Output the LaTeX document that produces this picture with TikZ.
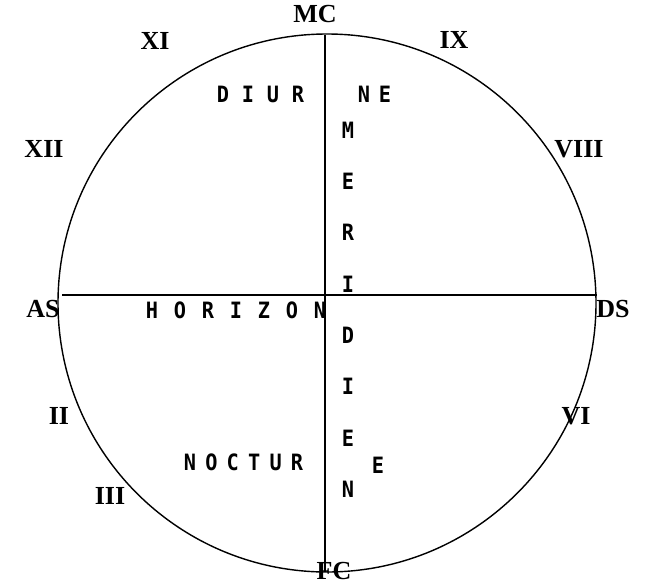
\documentclass[tikz,border=0pt]{standalone}
\usepackage{fontspec}
\setmainfont{Liberation Serif}
\newfontfamily\monofont{DejaVu Sans Mono}

\tikzset{
    house/.style={font=\fontsize{18.5}{21}\selectfont\bfseries, inner sep=0pt},
    word/.style={font=\monofont\bfseries\fontsize{16}{19}\selectfont, inner sep=0pt, xscale=0.9},
    axis/.style={draw, line width=1pt}
}

\begin{document}
\begin{tikzpicture}[x=0.025cm, y=-0.025cm]
    \useasboundingbox (0,0) rectangle (655,585);

    % the circle
    \coordinate (c) at (327,303);
    \draw[line width=1pt] (c) circle [radius=269];

    % meridian and horizon
    \coordinate (mc) at (325,35);
    \coordinate (fc) at (325,572);
    \coordinate (as) at (62,295);
    \coordinate (ds) at (597,295);
    \path[axis] (mc) -- (fc);
    \path[axis] (as) -- (ds);

    % houses
    \begin{scope}[every node/.style={house}]
        \node (MC) at (315,14) {MC};
        \node[anchor=base] (FC) at (334,579) {FC};
        \node (AS) at (43,309) {AS};
        \node (DS) at (613,309) {DS};
        \node (XI) at (155,41) {XI};
        \node (IX) at (454,40) {IX};
        \node (XII) at (44,149) {XII};
        \node (VIII) at (579,149) {VIII};
        \node (II) at (59,416) {II};
        \node (VI) at (576,416) {VI};
        \node (III) at (110,496) {III};
    \end{scope}

    % words
    \foreach \l [count=\i from 0] in {D,I,U,R}
        \node[word] (diur\i) at (223+25*\i,94) {\l};
    \foreach \l [count=\i from 0] in {N,E}
        \node[word] (ne\i) at (364+21*\i,94) {\l};
    \foreach \l [count=\i from 0] in {H,O,R,I,Z,O,N}
        \node[word] (hor\i) at (152+28*\i,310) {\l};
    \foreach \l [count=\i from 0] in {N,O,C,T,U,R}
        \node[word] (noc\i) at (190+21.4*\i,462) {\l};
    \node[word] (e) at (378,465) {E};
    \foreach \l [count=\i from 0] in {M,E,R,I,D,I,E,N}
        \node[word] (mer\i) at (348,130+51.3*\i) {\l};
\end{tikzpicture}
\end{document}
